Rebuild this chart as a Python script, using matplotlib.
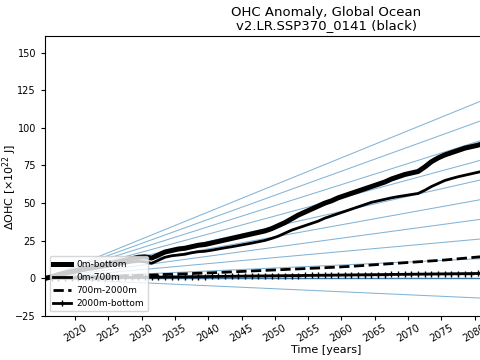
import numpy as np
import matplotlib
matplotlib.use("Agg")
import matplotlib.pyplot as plt

years = np.arange(2015.5, 2082.5, 1.0)

ohc_0_bottom = [0, 1, 2.5, 3.5, 4.5, 5.5, 6.5, 7.5, 8, 9,
                10, 11, 12, 13, 14, 14.3, 13.5, 15.5, 17.5, 18.5,
                19.5, 20, 21, 22, 22.5, 23.5, 24.5, 25.5, 26.5, 27.5,
                28.5, 29.5, 30.5, 31.5, 33, 35, 37, 39.5, 42, 44,
                46, 48, 50, 51.5, 53.5, 55, 56.5, 58, 59.5, 61,
                62.5, 64, 66, 67.5, 69, 70, 71, 74, 77.5, 80,
                82, 83.5, 85, 86.5, 87.5, 88.5, 90]

ohc_0_700 = [0, 1, 2, 3, 3.8, 4.5, 5.5, 6.2, 7, 7.7,
             8.5, 9.3, 10, 10.8, 11.3, 11, 10, 12, 14, 15,
             15.5, 16, 17, 17.7, 18, 18.7, 19.5, 20.3, 21, 21.8,
             22.6, 23.4, 24.3, 25.2, 26.5, 28, 30, 32, 33.5, 35,
             36.5, 38, 40, 41.5, 43, 44.5, 46, 47.5, 49, 50.5,
             51.5, 52.5, 53.5, 54.3, 55, 55.7, 56.4, 58.5, 61, 63,
             65, 66.3, 67.5, 68.5, 69.5, 70.5, 71.5]

ohc_700_2000 = [0, 0.1, 0.2, 0.4, 0.5, 0.7, 0.8, 1.0, 1.1, 1.3,
                1.4, 1.5, 1.7, 1.8, 2.0, 2.1, 2.2, 2.4, 2.6, 2.7,
                2.9, 3.0, 3.2, 3.4, 3.5, 3.7, 3.9, 4.1, 4.3, 4.5,
                4.7, 4.9, 5.1, 5.3, 5.5, 5.7, 5.9, 6.1, 6.3, 6.5,
                6.7, 6.9, 7.1, 7.3, 7.5, 7.8, 8.0, 8.3, 8.6, 8.9,
                9.2, 9.5, 9.8, 10.1, 10.4, 10.7, 11.0, 11.3, 11.6, 11.9,
                12.2, 12.6, 13.0, 13.4, 13.8, 14.2, 14.6]

ohc_2000_bottom = [0, 0.05, 0.1, 0.15, 0.2, 0.25, 0.3, 0.35, 0.4, 0.45,
                   0.5, 0.55, 0.6, 0.65, 0.7, 0.75, 0.8, 0.85, 0.9, 0.95,
                   1.0, 1.05, 1.1, 1.15, 1.2, 1.25, 1.3, 1.35, 1.4, 1.45,
                   1.5, 1.55, 1.6, 1.65, 1.7, 1.75, 1.8, 1.85, 1.9, 1.95,
                   2.0, 2.05, 2.1, 2.15, 2.2, 2.25, 2.3, 2.35, 2.4, 2.45,
                   2.5, 2.55, 2.6, 2.65, 2.7, 2.75, 2.8, 2.85, 2.9, 2.95,
                   3.0, 3.05, 3.1, 3.15, 3.2, 3.25, 3.3]

ref_slopes = [-0.2, 0.2, 0.4, 0.6, 0.8, 1.0, 1.2, 1.4, 1.6, 1.8]
ref_start = 2015.5
ref_end = 2100.0

xticks = list(range(2020, 2100, 5))
yticks = [-25, 0, 25, 50, 75, 100, 125, 150]

fig = plt.figure(figsize=(4.8, 3.6), dpi=100)
ax = fig.add_axes([45/480, 1-316/360, 563/480, 280/360])

for s in ref_slopes:
    ax.plot([ref_start, ref_end], [0, s*(ref_end-ref_start)],
            color='tab:blue', alpha=0.55, lw=0.75, zorder=1)
ax.axhline(0, color='#3f77a8', lw=1.0, zorder=1)

ax.plot(years, ohc_0_bottom, color='black', lw=3.6, label='0m-bottom', zorder=3)
ax.plot(years, ohc_0_700, color='black', lw=2.0, label='0m-700m', zorder=3)
ax.plot(years, ohc_700_2000, color='black', lw=2.0, ls='--', label='700m-2000m', zorder=3)
ax.plot(years, ohc_2000_bottom, color='black', lw=2.0, marker='+', ms=4,
        label='2000m-bottom', zorder=3)

ax.set_xlim(2015.5, 2100)
ax.set_ylim(-25, 161)
ax.set_xticks(xticks)
ax.set_yticks(yticks)
ax.tick_params(axis='x', labelsize=7, rotation=30, length=3, pad=2)
ax.tick_params(axis='y', labelsize=7, length=3)
for lab in ax.get_xticklabels():
    lab.set_ha('center')

ax.set_xlabel('Time [years]', fontsize=8, labelpad=1)
ax.set_ylabel(r'$\Delta$OHC [$\times 10^{22}$ J]', fontsize=8)
ax.yaxis.set_label_coords(-26/563, 0.46)
ax.set_title('OHC Anomaly, Global Ocean\nv2.LR.SSP370_0141 (black)', fontsize=9.5,
             linespacing=1.0, pad=5)

ax.legend(loc='lower left', fontsize=6.5, handlelength=2, borderaxespad=0.5,
          labelspacing=0.45, handletextpad=0.6)

fig.savefig('out.png', dpi=100)
